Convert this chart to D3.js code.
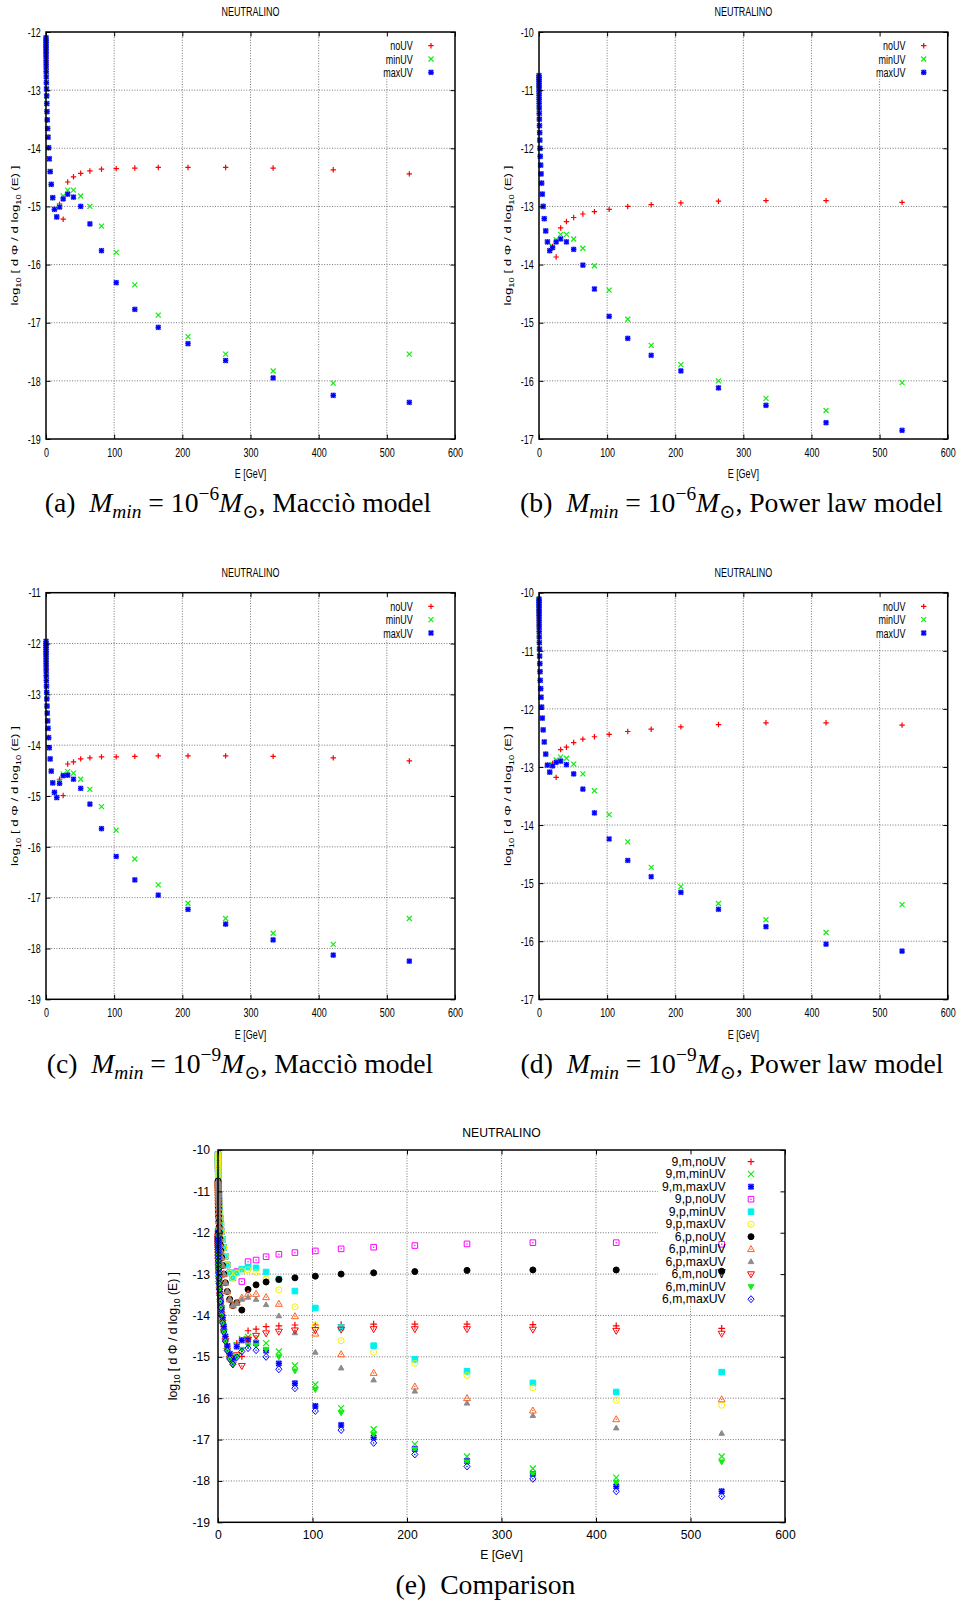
<!DOCTYPE html>
<html><head><meta charset="utf-8">
<script src="https://cdn.jsdelivr.net/npm/d3@7"></script>
<style>body{margin:0;background:#fff} svg{display:block}</style>
</head><body>
<script>
// ---------------- DATA ----------------
const energy = [0.028, 0.035, 0.044, 0.056, 0.07, 0.09, 0.11, 0.14, 0.18, 0.23, 0.29, 0.37, 0.46, 0.59, 0.74, 0.94, 1.19,
  1.50, 1.90, 2.40, 3.04, 3.84, 4.86, 6.15, 7.77, 9.83, 12.4, 15.7, 19.9, 25.2, 31.8, 40.3, 50.9, 64.4, 81.4, 103,
  130.3, 164.7, 208.3, 263.5, 333.2, 421.4, 533];

// M_min = 1e-6, Maccio model (panel a)
const m6_noUV = [-12.10, -12.15, -12.18, -12.22, -12.26, -12.30, -12.35, -12.40, -12.46, -12.53, -12.60, -12.68, -12.77, -12.87, -12.98, -13.10, -13.23, -13.37, -13.51, -13.66, -13.81, -13.99, -14.18, -14.40, -14.62, -14.85, -15.05, -15.18,
  -14.96, -15.22, -14.58, -14.49, -14.43, -14.39, -14.36, -14.35, -14.34, -14.33, -14.33, -14.33, -14.34, -14.37, -14.44];
const m6_minUV = [-12.10, -12.15, -12.18, -12.22, -12.26, -12.30, -12.35, -12.40, -12.46, -12.53, -12.60, -12.68, -12.77, -12.87, -12.98, -13.10, -13.23, -13.37, -13.51, -13.66, -13.81, -13.99, -14.18, -14.40, -14.62, -14.85, -15.05, -15.18,
  -14.99, -14.82, -14.72, -14.72, -14.82, -15.00, -15.34, -15.79, -16.35, -16.87, -17.24, -17.54, -17.83, -18.04, -17.54];
const m6_maxUV = [-12.10, -12.15, -12.18, -12.22, -12.26, -12.30, -12.35, -12.40, -12.46, -12.53, -12.60, -12.68, -12.77, -12.87, -12.98, -13.10, -13.23, -13.37, -13.51, -13.66, -13.81, -13.99, -14.18, -14.40, -14.62, -14.85, -15.05, -15.18,
  -15.01, -14.87, -14.79, -14.84, -15.00, -15.30, -15.76, -16.31, -16.77, -17.08, -17.36, -17.65, -17.95, -18.25, -18.37];

// M_min = 1e-6, Power law model (panel b)
const p6_noUV = [-10.75, -10.78, -10.81, -10.85, -10.89, -10.93, -10.98, -11.03, -11.09, -11.16, -11.23, -11.31, -11.40, -11.50, -11.61, -11.73, -11.86, -12.00, -12.14, -12.29, -12.44, -12.60, -12.79, -13.00, -13.21, -13.42, -13.61, -13.76,
  -13.69, -13.87, -13.37, -13.26, -13.19, -13.13, -13.09, -13.05, -13.00, -12.97, -12.94, -12.91, -12.90, -12.90, -12.93];
const p6_minUV = [-10.75, -10.78, -10.81, -10.85, -10.89, -10.93, -10.98, -11.03, -11.09, -11.16, -11.23, -11.31, -11.40, -11.50, -11.61, -11.73, -11.86, -12.00, -12.14, -12.29, -12.44, -12.60, -12.79, -13.00, -13.21, -13.42, -13.61, -13.76,
  -13.69, -13.57, -13.48, -13.48, -13.56, -13.72, -14.02, -14.44, -14.94, -15.39, -15.72, -16.00, -16.30, -16.51, -16.03];
const p6_maxUV = [-10.75, -10.78, -10.81, -10.85, -10.89, -10.93, -10.98, -11.03, -11.09, -11.16, -11.23, -11.31, -11.40, -11.50, -11.61, -11.73, -11.86, -12.00, -12.14, -12.29, -12.44, -12.60, -12.79, -13.00, -13.21, -13.42, -13.61, -13.76,
  -13.71, -13.61, -13.56, -13.61, -13.74, -14.01, -14.42, -14.89, -15.27, -15.56, -15.83, -16.12, -16.42, -16.72, -16.85];

// M_min = 1e-9, Maccio model (panel c)
const m9_noUV = [-11.96, -12.01, -12.04, -12.08, -12.12, -12.16, -12.21, -12.26, -12.32, -12.39, -12.46, -12.54, -12.63, -12.73, -12.84, -12.96, -13.09, -13.23, -13.37, -13.52, -13.67, -13.85, -14.05, -14.27, -14.51, -14.74, -14.93, -15.03,
  -14.67, -14.99, -14.37, -14.33, -14.27, -14.25, -14.23, -14.23, -14.22, -14.21, -14.21, -14.21, -14.22, -14.25, -14.31];
const m9_minUV = [-11.96, -12.01, -12.04, -12.08, -12.12, -12.16, -12.21, -12.26, -12.32, -12.39, -12.46, -12.54, -12.63, -12.73, -12.84, -12.96, -13.09, -13.23, -13.37, -13.52, -13.67, -13.85, -14.05, -14.27, -14.51, -14.74, -14.93, -15.03,
  -14.72, -14.57, -14.52, -14.55, -14.67, -14.87, -15.21, -15.67, -16.24, -16.75, -17.11, -17.41, -17.70, -17.92, -17.41];
const m9_maxUV = [-11.96, -12.01, -12.04, -12.08, -12.12, -12.16, -12.21, -12.26, -12.32, -12.39, -12.46, -12.54, -12.63, -12.73, -12.84, -12.96, -13.09, -13.23, -13.37, -13.52, -13.67, -13.85, -14.05, -14.27, -14.51, -14.74, -14.93, -15.03,
  -14.75, -14.60, -14.59, -14.67, -14.85, -15.16, -15.64, -16.19, -16.65, -16.95, -17.23, -17.52, -17.83, -18.13, -18.25];

// M_min = 1e-9, Power law model (panel d)
const p9_noUV = [-10.11, -10.14, -10.17, -10.21, -10.25, -10.29, -10.34, -10.39, -10.45, -10.52, -10.59, -10.67, -10.76, -10.86, -10.97, -11.09, -11.22, -11.36, -11.51, -11.65, -11.80, -11.97, -12.16, -12.36, -12.57, -12.78, -12.97, -13.09,
  -12.94, -13.18, -12.70, -12.66, -12.58, -12.52, -12.48, -12.44, -12.39, -12.35, -12.31, -12.27, -12.24, -12.24, -12.28];
const p9_minUV = [-10.11, -10.14, -10.17, -10.21, -10.25, -10.29, -10.34, -10.39, -10.45, -10.52, -10.59, -10.67, -10.76, -10.86, -10.97, -11.09, -11.22, -11.36, -11.51, -11.65, -11.80, -11.97, -12.16, -12.36, -12.57, -12.78, -12.97, -13.09,
  -12.96, -12.88, -12.83, -12.85, -12.95, -13.12, -13.41, -13.82, -14.29, -14.73, -15.06, -15.35, -15.63, -15.85, -15.37];
const p9_maxUV = [-10.11, -10.14, -10.17, -10.21, -10.25, -10.29, -10.34, -10.39, -10.45, -10.52, -10.59, -10.67, -10.76, -10.86, -10.97, -11.09, -11.22, -11.36, -11.51, -11.65, -11.80, -11.97, -12.16, -12.36, -12.57, -12.78, -12.97, -13.09,
  -12.98, -12.92, -12.90, -12.96, -13.12, -13.38, -13.79, -14.24, -14.61, -14.89, -15.16, -15.45, -15.75, -16.05, -16.17];

const xTicks = [0, 100, 200, 300, 400, 500, 600];
const yTicksA = [-19, -18, -17, -16, -15, -14, -13, -12];
const yTicksB = [-17, -16, -15, -14, -13, -12, -11, -10];
const yTicksC = [-19, -18, -17, -16, -15, -14, -13, -12, -11];
const yTicksD = [-17, -16, -15, -14, -13, -12, -11, -10];
const yTicksE = [-19, -18, -17, -16, -15, -14, -13, -12, -11, -10];

const titleText = "NEUTRALINO";
const xLabelText = "E [GeV]";
const seriesNames = ["noUV", "minUV", "maxUV"];
const comparisonNames = ["9,m,noUV", "9,m,minUV", "9,m,maxUV", "9,p,noUV", "9,p,minUV", "9,p,maxUV",
  "6,p,noUV", "6,p,minUV", "6,p,maxUV", "6,m,noUV", "6,m,minUV", "6,m,maxUV"];
const captionTags = ["(a)", "(b)", "(c)", "(d)", "(e)"];
const captionExp = ["\u22126", "\u22126", "\u22129", "\u22129"];
const captionModel = ["Macci\u00f2 model", "Power law model", "Macci\u00f2 model", "Power law model"];

// ---------------- STYLE ----------------
const FONT = "'Liberation Sans', Arial, Helvetica, sans-serif";
const SERIF = "'Liberation Serif', 'DejaVu Serif', serif";
const C = {red:'#ff0000', green:'#10ee10', blue:'#0000ff', magenta:'#ff00ff', cyan:'#00f0f0',
  yellow:'#f4f000', black:'#000000', orange:'#ff6020', gray:'#8c8c8c'};
const markerDefs = {
  plus:{shape:'plus'}, cross:{shape:'cross'}, star:{shape:'star', halo:true},
  sqOpen:{shape:'sq', dot:true}, sqFill:{shape:'sq', filled:true},
  circOpen:{shape:'circ', dot:true}, circFill:{shape:'circ', filled:true},
  triOpen:{shape:'tri', dot:true}, triFill:{shape:'tri', filled:true},
  itriOpen:{shape:'itri', dot:true}, itriFill:{shape:'itri', filled:true},
  diaOpen:{shape:'dia', dot:true}
};
function markerPath(shape, cx, cy, s) {
  switch (shape) {
    case 'plus': return `M${cx-s},${cy}H${cx+s}M${cx},${cy-s}V${cy+s}`;
    case 'cross': return `M${cx-s},${cy-s}L${cx+s},${cy+s}M${cx-s},${cy+s}L${cx+s},${cy-s}`;
    case 'star': { const t = s*0.85; return `M${cx-s},${cy}H${cx+s}M${cx},${cy-s}V${cy+s}M${cx-t},${cy-t}L${cx+t},${cy+t}M${cx-t},${cy+t}L${cx+t},${cy-t}`; }
    case 'sq': return `M${cx-s},${cy-s}h${2*s}v${2*s}h${-2*s}Z`;
    case 'circ': return `M${cx+s},${cy}A${s},${s} 0 1 1 ${cx-s},${cy}A${s},${s} 0 1 1 ${cx+s},${cy}Z`;
    case 'tri': return `M${cx},${cy-s*1.2}L${cx+s*1.15},${cy+s*0.8}L${cx-s*1.15},${cy+s*0.8}Z`;
    case 'itri': return `M${cx},${cy+s*1.2}L${cx+s*1.15},${cy-s*0.8}L${cx-s*1.15},${cy-s*0.8}Z`;
    case 'dia': return `M${cx},${cy-s*1.25}L${cx+s*1.1},${cy}L${cx},${cy+s*1.25}L${cx-s*1.1},${cy}Z`;
  }
}

const W = 959, H = 1606;
const svg = d3.select('body').append('svg').attr('width', W).attr('height', H);
svg.append('rect').attr('width', W).attr('height', H).attr('fill', '#fff');

function label(parent, x, y, str, o) {
  const g = parent.append('g').attr('transform', `translate(${x},${y}) scale(${o.sx||1},1)`);
  const t = g.append('text').attr('font-family', FONT).attr('font-size', o.fs)
    .attr('text-anchor', o.anchor || 'start').attr('fill', '#000');
  if (o.dy) t.attr('dy', o.dy);
  t.text(str);
  return g;
}

function yLabel(parent, x, y, fs, sx) {
  const g = parent.append('g').attr('transform', `translate(${x},${y}) scale(${sx},1) rotate(-90)`);
  const t = g.append('text').attr('font-family', FONT).attr('font-size', fs).attr('text-anchor', 'middle');
  const sub = fs*0.7, sh = fs*0.32;
  t.append('tspan').text('log');
  t.append('tspan').attr('font-size', sub).attr('dy', sh).text('10');
  t.append('tspan').attr('dy', -sh).text(' [ d \u03a6 / d log');
  t.append('tspan').attr('font-size', sub).attr('dy', sh).text('10');
  t.append('tspan').attr('dy', -sh).text(' (E) ]');
}

function drawMarkers(parent, pts, x, y, mk, color, s) {
  const def = markerDefs[mk];
  const g = parent.append('g');
  if (def.halo) {
    g.append('g').selectAll('path').data(pts).join('path')
      .attr('d', d => markerPath(def.shape, x(d.E), y(d.v), s))
      .attr('fill', 'none').attr('stroke', '#8a8aff').attr('stroke-width', 2.6);
  }
  g.append('g').selectAll('path').data(pts).join('path')
    .attr('d', d => markerPath(def.shape, x(d.E), y(d.v), s))
    .attr('fill', def.filled ? color : 'none').attr('stroke', color)
    .attr('stroke-width', def.shape === 'cross' || def.shape === 'plus' || def.shape === 'star' ? 1.2 : 1);
  if (def.dot) {
    g.append('g').selectAll('circle').data(pts).join('circle')
      .attr('cx', d => x(d.E)).attr('cy', d => y(d.v)).attr('r', 0.75).attr('fill', color);
  }
}

function drawPanel(P) {
  const x = d3.scaleLinear().domain([xTicks[0], xTicks[xTicks.length-1]]).range([P.left, P.right]);
  const y = d3.scaleLinear().domain([P.yTicks[0], P.yTicks[P.yTicks.length-1]]).range([P.bottom, P.top]);
  const g = svg.append('g');
  // grid
  const grid = g.append('g').attr('stroke', '#555').attr('stroke-width', 0.8).attr('stroke-dasharray', '1,1.6');
  grid.selectAll('line.v').data(xTicks.slice(1, -1)).join('line').attr('class', 'v')
    .attr('x1', d => x(d)).attr('x2', d => x(d)).attr('y1', P.top).attr('y2', P.bottom);
  grid.selectAll('line.h').data(P.yTicks.slice(1, -1)).join('line').attr('class', 'h')
    .attr('y1', d => y(d)).attr('y2', d => y(d)).attr('x1', P.left).attr('x2', P.right);
  const legBg = g.append('rect').attr('fill', '#fff');
  // series
  const dataG = g.append('g');
  P.series.forEach(s => {
    const pts = energy.map((E, i) => ({E, v: s.values[i]}));
    drawMarkers(dataG, pts, x, y, s.marker, s.color, s.size);
  });
  // legend
  const legG = g.append('g');
  let minLeft = Infinity;
  P.series.forEach((s, i) => {
    const ry = P.top + P.legY0 + i*P.legDy;
    const lt = label(legG, P.right - P.legTextOff, ry, s.name, {fs: P.fs, sx: P.sx, anchor: 'end', dy: '0.35em'});
    minLeft = Math.min(minLeft, lt.node().getBoundingClientRect().left);
    drawMarkers(legG, [{E: 0, v: 0}], () => P.right - P.legSymOff, () => ry, s.marker, s.color, s.size);
  });
  const legBottom = P.top + P.legY0 + (P.series.length - 1)*P.legDy + 7;
  legBg.attr('x', minLeft - 4).attr('y', P.top).attr('width', P.right - minLeft + 4).attr('height', legBottom - P.top);
  // axes
  const fmt = d => String(d);
  const axL = g.append('g').attr('transform', `translate(${P.left},0)`)
    .call(d3.axisLeft(y).tickValues(P.yTicks).tickFormat(fmt).tickSizeInner(-4.5).tickSizeOuter(0).tickPadding(P.yPad));
  const axB = g.append('g').attr('transform', `translate(0,${P.bottom})`)
    .call(d3.axisBottom(x).tickValues(xTicks).tickFormat(fmt).tickSizeInner(-4.5).tickSizeOuter(0).tickPadding(P.xPad));
  const axR = g.append('g').attr('transform', `translate(${P.right},0)`)
    .call(d3.axisRight(y).tickValues(P.yTicks).tickFormat('').tickSizeInner(-4.5).tickSizeOuter(0));
  const axT = g.append('g').attr('transform', `translate(0,${P.top})`)
    .call(d3.axisTop(x).tickValues(xTicks).tickFormat('').tickSizeInner(-4.5).tickSizeOuter(0));
  [axL, axB, axR, axT].forEach(a => {
    a.select('.domain').remove();
    a.attr('font-family', FONT).attr('font-size', P.fs);
    a.selectAll('.tick line').attr('stroke', '#000').attr('stroke-width', 1);
  });
  axL.selectAll('text').attr('transform', `scale(${P.sx},1)`).attr('x', -P.yPad / P.sx).attr('fill', '#000');
  axB.selectAll('text').attr('transform', `scale(${P.sx},1)`).attr('fill', '#000');
  // frame
  g.append('rect').attr('x', P.left).attr('y', P.top).attr('width', P.right - P.left).attr('height', P.bottom - P.top)
    .attr('fill', 'none').attr('stroke', '#000').attr('stroke-width', 1.5);
  // labels
  label(g, (P.left + P.right)/2, P.titleY, titleText, {fs: P.fs, sx: P.sx, anchor: 'middle'});
  label(g, (P.left + P.right)/2, P.xlabY, xLabelText, {fs: P.fs, sx: P.sx, anchor: 'middle'});
  yLabel(g, P.ylabX, (P.top + P.bottom)/2, P.fs, P.sx);
}

function trio(a, b, c) {
  return [
    {name: seriesNames[0], values: a, marker: 'plus', color: C.red, size: 2.7},
    {name: seriesNames[1], values: b, marker: 'cross', color: C.green, size: 2.5},
    {name: seriesNames[2], values: c, marker: 'star', color: C.blue, size: 2.6}
  ];
}
const small = {fs: 13.3, sx: 0.675, legY0: 13.7, legDy: 13.3, legTextOff: 42.3, legSymOff: 24, yPad: 5.3, xPad: 8.3};
const panels = [
  Object.assign({left: 46, top: 32, right: 455, bottom: 439, yTicks: yTicksA, series: trio(m6_noUV, m6_minUV, m6_maxUV),
    titleY: 16, xlabY: 478, ylabX: 18}, small),
  Object.assign({left: 539, top: 32, right: 947.7, bottom: 439, yTicks: yTicksB, series: trio(p6_noUV, p6_minUV, p6_maxUV),
    titleY: 16, xlabY: 478, ylabX: 511.4}, small),
  Object.assign({left: 46, top: 592.7, right: 455, bottom: 999.3, yTicks: yTicksC, series: trio(m9_noUV, m9_minUV, m9_maxUV),
    titleY: 577, xlabY: 1038.5, ylabX: 18}, small),
  Object.assign({left: 539, top: 592.7, right: 947.7, bottom: 999.3, yTicks: yTicksD, series: trio(p9_noUV, p9_minUV, p9_maxUV),
    titleY: 577, xlabY: 1038.5, ylabX: 511.4}, small),
  {left: 218, top: 1150, right: 785, bottom: 1522.3, yTicks: yTicksE,
    fs: 12.2, sx: 1, legY0: 11.7, legDy: 12.5, legTextOff: 59.3, legSymOff: 34, yPad: 8, xPad: 8.5,
    titleY: 1136.5, xlabY: 1558.5, ylabX: 176.5,
    series: [
      {name: comparisonNames[0], values: m9_noUV, marker: 'plus', color: C.red, size: 3.3},
      {name: comparisonNames[1], values: m9_minUV, marker: 'cross', color: C.green, size: 3},
      {name: comparisonNames[2], values: m9_maxUV, marker: 'star', color: C.blue, size: 3},
      {name: comparisonNames[3], values: p9_noUV, marker: 'sqOpen', color: C.magenta, size: 2.8},
      {name: comparisonNames[4], values: p9_minUV, marker: 'sqFill', color: C.cyan, size: 2.8},
      {name: comparisonNames[5], values: p9_maxUV, marker: 'circOpen', color: C.yellow, size: 3},
      {name: comparisonNames[6], values: p6_noUV, marker: 'circFill', color: C.black, size: 3},
      {name: comparisonNames[7], values: p6_minUV, marker: 'triOpen', color: C.orange, size: 3},
      {name: comparisonNames[8], values: p6_maxUV, marker: 'triFill', color: C.gray, size: 2.4},
      {name: comparisonNames[9], values: m6_noUV, marker: 'itriOpen', color: C.red, size: 3},
      {name: comparisonNames[10], values: m6_minUV, marker: 'itriFill', color: C.green, size: 2.5},
      {name: comparisonNames[11], values: m6_maxUV, marker: 'diaOpen', color: C.blue, size: 2.8}
    ]}
];
panels.forEach(drawPanel);

// captions
const capPos = [[238, 512], [731.5, 512], [240, 1073], [732, 1073], [485.5, 1594]];
function caption(idx, fs) {
  const [cx, by] = capPos[idx];
  const t = svg.append('text').attr('font-family', SERIF).attr('font-size', fs)
    .attr('text-anchor', 'middle').attr('x', cx).attr('y', by).attr('fill', '#000');
  t.append('tspan').text(captionTags[idx] + '\u00a0 ');
  if (idx < 4) {
    t.append('tspan').attr('font-style', 'italic').text('M');
    t.append('tspan').attr('font-style', 'italic').attr('font-size', fs*0.7).attr('dy', fs*0.22).text('min');
    t.append('tspan').attr('dy', -fs*0.22).text('\u00a0=\u00a010');
    t.append('tspan').attr('font-size', fs*0.7).attr('dy', -fs*0.42).text(captionExp[idx]);
    t.append('tspan').attr('font-style', 'italic').attr('dy', fs*0.42).text('M');
    t.append('tspan').attr('font-size', fs*0.7).attr('dy', fs*0.22).text('\u2299');
    t.append('tspan').attr('dy', -fs*0.22).text(', ' + captionModel[idx]);
  } else {
    t.append('tspan').text('Comparison');
  }
  return t;
}
const probe = caption(1, 22);
const w = probe.node().getComputedTextLength();
probe.remove();
const capFs = 22 * 423 / w;
[0, 1, 2, 3, 4].forEach(i => caption(i, capFs));
</script>
</body></html>
